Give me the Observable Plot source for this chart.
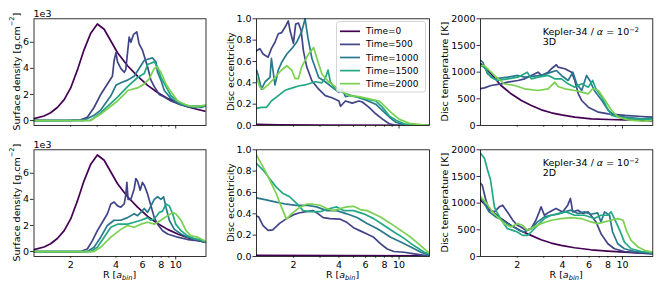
<!DOCTYPE html>
<html><head><meta charset="utf-8">
<script src="https://cdn.jsdelivr.net/npm/d3@7"></script>
<script src="https://cdn.jsdelivr.net/npm/@observablehq/plot@0.6"></script>
<style>
body{margin:0;background:#fff;}
#fig{position:relative;width:664px;height:291px;font-family:"DejaVu Sans",sans-serif;}
#fig svg{position:absolute;left:0;top:0;overflow:visible;}
</style></head><body><div id="fig"></div>
<script>
// ---------------- data ----------------
const times = ["Time=0", "Time=500", "Time=1000", "Time=1500", "Time=2000"];
const colors = ["#440154", "#414487", "#2a788e", "#22a884", "#7ad151"];
const xDomain = [1.14, 15.9];
const xLabelTicks = [2, 4, 6, 8];
const xMajorTicks = [10];
const xMinorTicks = [3, 5, 7, 9];
const sdTicks = [0, 2, 4, 6];
const ecTicks = [0, 0.2, 0.4, 0.6, 0.8, 1.0];
const tpTicks = [0, 500, 1000, 1500, 2000];

// surface density (x1e3 g/cm^2), initial profile (Time=0) shared by 3D and 2D
const sdInit = [[1.14,0.15],[1.33,0.35],[1.47,0.6],[1.63,1.0],[1.81,1.6],[2.0,2.5],[2.22,3.9],[2.45,5.4],[2.72,6.7],[3.01,7.4],[3.34,7.0],[3.70,6.1],[4.10,5.2],[4.78,4.2],[5.57,3.4],[6.50,2.7],[7.57,2.15],[8.83,1.7],[10.3,1.35],[12.0,1.07],[14.0,0.85],[15.9,0.7]];
const sd3d_t500 = [[1.14,0.02],[1.9,0.02],[2.33,0.05],[2.58,0.25],[2.86,1.0],[3.17,2.0],[3.51,2.8],[3.79,3.4],[3.89,4.6],[4.0,5.2],[4.1,4.5],[4.31,4.0],[4.54,3.7],[4.65,3.9],[4.9,6.4],[5.03,6.0],[5.24,6.6],[5.51,6.8],[5.7,5.9],[6.0,5.4],[6.5,4.1],[6.84,3.1],[7.2,2.6],[7.77,2.0],[8.39,1.8],[9.3,1.5],[10.84,1.2],[12.64,1.0],[14.74,1.0],[15.9,1.15]];
const sd3d_t1000 = [[1.14,0.0],[2.45,0.02],[2.86,0.4],[3.17,0.8],[3.7,1.9],[4.0,2.7],[4.31,2.9],[4.78,3.1],[5.29,3.4],[5.86,4.2],[6.17,4.6],[6.5,4.7],[7.01,4.8],[7.38,4.5],[7.57,3.7],[7.97,3.1],[8.39,2.3],[9.3,1.7],[10.84,1.2],[12.64,1.1],[15.9,1.1]];
const sd3d_t1500 = [[1.14,0.0],[2.72,0.02],[3.17,0.6],[4.1,1.8],[4.78,2.6],[5.57,3.3],[6.17,3.6],[6.5,4.3],[7.2,4.5],[7.57,4.1],[7.97,3.3],[8.61,2.6],[9.3,1.9],[10.84,1.3],[13.31,1.0],[15.9,1.1]];
const sd3d_t2000 = [[1.14,0.0],[2.72,0.02],[3.17,0.5],[4.1,1.5],[4.54,2.0],[4.78,2.3],[5.57,2.5],[6.17,2.8],[6.66,3.2],[7.2,4.0],[7.5,4.1],[7.97,3.7],[8.61,2.8],[9.3,2.2],[10.3,1.5],[12.0,1.15],[14.0,1.07],[15.9,1.2]];

const sd2d_t500 = [[1.14,0.0],[2.33,0.0],[2.58,0.2],[2.79,0.84],[3.01,1.6],[3.25,2.25],[3.51,2.9],[3.7,3.65],[3.89,3.8],[4.1,3.5],[4.31,3.4],[4.54,3.65],[4.65,4.3],[4.73,5.3],[4.82,4.0],[5.03,4.0],[5.29,4.8],[5.43,5.6],[5.57,5.4],[5.8,4.7],[6.0,5.3],[6.2,5.05],[6.5,4.4],[6.84,3.5],[7.2,2.6],[7.57,2.1],[8.18,1.6],[8.83,1.35],[10.3,1.1],[12.0,0.92],[14.0,0.84],[15.9,0.71]];
const sd2d_t1000 = [[1.14,0.0],[2.58,0.0],[2.86,0.33],[3.17,1.1],[3.51,2.0],[3.89,2.4],[4.31,2.4],[4.78,2.6],[5.29,2.9],[5.57,2.75],[5.86,3.0],[6.17,3.3],[6.5,3.0],[6.84,3.5],[7.2,4.0],[7.57,4.2],[7.97,4.0],[8.3,4.2],[8.61,3.4],[9.06,2.4],[9.79,1.7],[10.84,1.35],[12.0,1.1],[14.0,0.92],[15.9,0.71]];
const sd2d_t1500 = [[1.14,0.0],[2.72,0.0],[3.01,0.33],[3.34,1.1],[3.7,1.86],[4.1,2.1],[4.78,2.1],[5.29,2.25],[5.86,2.4],[6.5,2.6],[6.84,2.4],[7.2,2.5],[7.77,3.0],[8.18,3.1],[8.61,3.65],[9.06,3.5],[9.54,2.9],[10.0,2.1],[10.84,1.6],[12.0,1.2],[13.31,0.97],[14.74,0.9],[15.9,0.71]];
const sd2d_t2000 = [[1.14,0.0],[2.86,0.0],[3.17,0.33],[3.7,1.1],[4.31,1.7],[4.78,2.0],[5.29,1.86],[5.86,2.1],[6.5,2.25],[7.2,2.1],[7.97,2.4],[8.83,2.75],[9.54,3.0],[10.0,2.9],[10.84,2.4],[11.7,1.6],[12.64,1.2],[14.0,1.1],[15.1,0.9],[15.9,0.77]];

// disc eccentricity
const ec3d_t0 = [[1.14,0.01],[1.6,0.006],[3.0,0.004],[15.9,0.002]];
const ec3d_t500 = [[1.14,0.70],[1.2,0.72],[1.26,0.67],[1.36,0.64],[1.43,0.72],[1.51,0.78],[1.59,0.86],[1.67,0.87],[1.76,0.92],[1.85,0.98],[1.9,0.89],[2.0,0.77],[2.07,0.95],[2.16,0.96],[2.25,0.89],[2.33,0.70],[2.45,0.55],[2.65,0.42],[2.94,0.34],[3.25,0.28],[3.6,0.26],[4.0,0.23],[4.1,0.18],[4.42,0.23],[4.9,0.21],[5.43,0.23],[5.71,0.22],[6.33,0.17],[7.01,0.11],[7.77,0.06],[8.61,0.016],[9.54,0.002],[15.9,0.0]];
const ec3d_t1000 = [[1.14,0.52],[1.17,0.47],[1.23,0.34],[1.3,0.41],[1.4,0.45],[1.43,0.63],[1.51,0.38],[1.59,0.52],[1.67,0.59],[1.81,0.67],[1.95,0.72],[2.1,0.78],[2.27,0.88],[2.39,1.0],[2.49,0.83],[2.65,0.63],[2.94,0.45],[3.25,0.41],[3.6,0.36],[4.0,0.31],[4.2,0.34],[4.42,0.27],[4.65,0.28],[5.16,0.27],[6.0,0.24],[7.01,0.20],[7.77,0.14],[8.61,0.08],[9.54,0.03],[10.57,0.01],[15.9,0.0]];
const ec3d_t1500 = [[1.14,0.16],[1.23,0.17],[1.33,0.17],[1.43,0.23],[1.59,0.28],[1.76,0.33],[1.95,0.35],[2.16,0.37],[2.39,0.38],[2.79,0.41],[3.09,0.40],[3.25,0.44],[3.39,0.52],[3.51,0.41],[3.79,0.34],[4.42,0.30],[5.16,0.27],[6.0,0.25],[7.01,0.23],[7.77,0.17],[8.61,0.09],[9.54,0.05],[11.1,0.01],[15.9,0.0]];
const ec3d_t2000 = [[1.14,0.45],[1.2,0.36],[1.26,0.34],[1.36,0.38],[1.51,0.45],[1.67,0.52],[1.81,0.56],[1.95,0.52],[2.05,0.44],[2.16,0.44],[2.27,0.55],[2.39,0.61],[2.52,0.67],[2.72,0.73],[2.86,0.63],[3.09,0.48],[3.42,0.41],[4.0,0.34],[4.65,0.28],[5.43,0.27],[6.33,0.25],[7.38,0.23],[8.18,0.17],[9.06,0.11],[10.0,0.06],[11.7,0.02],[14.4,0.006],[15.9,0.0]];

const ec2d_t0 = [[1.14,0.01],[4.0,0.008],[15.9,0.006]];
const ec2d_t500 = [[1.14,0.38],[1.18,0.37],[1.26,0.29],[1.36,0.245],[1.46,0.25],[1.62,0.31],[1.8,0.355],[1.99,0.39],[2.2,0.41],[2.44,0.42],[2.7,0.43],[2.92,0.40],[3.15,0.365],[3.49,0.355],[4.08,0.35],[4.51,0.32],[5.0,0.27],[5.54,0.24],[6.14,0.21],[6.8,0.18],[7.53,0.12],[8.35,0.07],[9.25,0.047],[10.8,0.04],[12.6,0.025],[14.7,0.01],[15.9,0.008]];
const ec2d_t1000 = [[1.14,0.55],[1.32,0.53],[1.54,0.51],[1.8,0.49],[2.09,0.48],[2.44,0.48],[2.85,0.465],[3.32,0.43],[3.87,0.43],[4.51,0.40],[5.27,0.365],[6.14,0.31],[7.19,0.26],[7.97,0.22],[8.79,0.18],[10.26,0.135],[11.96,0.09],[13.95,0.04],[15.9,0.01]];
const ec2d_t1500 = [[1.14,0.87],[1.26,0.81],[1.39,0.73],[1.54,0.65],[1.71,0.59],[1.89,0.56],[2.09,0.50],[2.32,0.43],[2.57,0.42],[3.0,0.42],[3.49,0.45],[3.87,0.465],[4.29,0.43],[5.0,0.43],[5.84,0.40],[6.8,0.355],[7.97,0.29],[9.25,0.23],[10.8,0.17],[12.6,0.10],[14.7,0.04],[15.9,0.025]];
const ec2d_t2000 = [[1.14,0.95],[1.26,0.84],[1.39,0.72],[1.54,0.59],[1.66,0.47],[1.8,0.35],[1.94,0.40],[2.2,0.46],[2.44,0.49],[2.7,0.49],[3.0,0.48],[3.32,0.45],[3.68,0.43],[4.08,0.45],[4.51,0.465],[5.0,0.47],[5.54,0.44],[6.14,0.43],[6.8,0.40],[7.53,0.37],[8.79,0.31],[10.26,0.245],[11.96,0.18],[13.95,0.10],[15.9,0.03]];

// disc temperature [K]
const tp3d_t0 = [[1.14,1160],[1.34,970],[1.56,750],[1.82,594],[2.13,469],[2.48,375],[2.89,294],[3.37,238],[3.93,200],[4.82,156],[6.2,125],[8.05,112],[10.4,106],[13.4,100],[15.9,85]];
const tp3d_t500 = [[1.14,690],[1.21,706],[1.34,750],[1.56,781],[1.73,813],[2.02,844],[2.24,875],[2.48,938],[2.75,1000],[2.89,938],[3.21,1000],[3.37,1063],[3.64,1138],[3.73,1094],[4.14,1063],[4.59,1000],[4.82,844],[5.09,594],[5.36,469],[5.93,344],[6.92,250],[8.05,219],[10.4,188],[13.4,169],[15.9,156]];
const tp3d_t1000 = [[1.14,1219],[1.18,1188],[1.27,969],[1.41,875],[1.73,906],[2.02,938],[2.24,906],[2.89,938],[3.37,1000],[3.64,1031],[3.93,938],[4.35,844],[4.69,1000],[4.96,781],[5.36,656],[5.77,938],[6.07,844],[6.5,656],[7.3,469],[8.05,281],[8.9,188],[10.4,156],[13.4,125],[15.9,144]];
const tp3d_t1500 = [[1.14,1125],[1.21,1094],[1.34,906],[1.48,844],[1.73,875],[2.02,906],[2.33,1000],[2.48,875],[2.75,906],[3.21,938],[3.55,875],[3.93,875],[4.35,781],[4.82,719],[5.36,781],[5.93,719],[6.34,844],[6.65,688],[7.3,531],[7.86,344],[8.47,188],[9.87,144],[12.2,125],[15.9,113]];
const tp3d_t2000 = [[1.14,1125],[1.21,1125],[1.41,938],[1.64,781],[1.92,750],[2.24,688],[2.75,656],[3.21,688],[3.55,813],[3.73,731],[4.14,688],[4.82,656],[5.36,625],[5.93,594],[6.34,688],[6.92,656],[7.67,469],[8.47,281],[9.36,156],[10.9,106],[13.4,81],[15.9,94]];

const tp2d_t0 = [[1.14,1057],[1.33,868],[1.56,711],[1.81,585],[2.12,478],[2.47,396],[2.88,314],[3.36,252],[3.91,208],[4.8,164],[6.17,126],[8.0,101],[10.3,82],[13.4,63],[15.9,60]];
const tp2d_t500 = [[1.14,1371],[1.17,1340],[1.23,1088],[1.3,868],[1.41,836],[1.52,931],[1.6,962],[1.72,836],[1.87,679],[2.0,585],[2.12,553],[2.28,490],[2.47,522],[2.66,679],[2.8,836],[2.88,931],[3.03,773],[3.27,836],[3.62,900],[4.0,836],[4.33,962],[4.51,1088],[4.67,836],[5.05,868],[5.46,805],[5.9,836],[6.17,773],[6.67,648],[7.2,428],[8.0,239],[8.84,145],[10.3,94],[13.4,63],[15.9,50]];
const tp2d_t1000 = [[1.14,1120],[1.21,994],[1.3,836],[1.44,742],[1.6,679],[1.72,616],[1.91,553],[2.06,490],[2.22,459],[2.47,522],[2.73,648],[3.03,742],[3.36,773],[3.72,792],[4.11,836],[4.56,868],[5.05,805],[5.6,836],[6.17,792],[6.84,818],[7.2,648],[7.6,836],[8.2,773],[8.6,459],[9.3,239],[10.3,145],[12.1,94],[15.9,63]];
const tp2d_t1500 = [[1.14,1937],[1.21,1843],[1.27,1623],[1.33,1434],[1.41,931],[1.48,805],[1.6,648],[1.72,522],[1.87,490],[2.0,459],[2.17,396],[2.34,396],[2.47,459],[2.73,585],[3.03,711],[3.36,773],[3.72,805],[4.22,836],[4.8,773],[5.6,773],[6.5,711],[7.2,773],[8.0,773],[8.4,836],[8.84,711],[9.6,490],[10.3,270],[11.4,145],[13.4,94],[15.9,69]];
const tp2d_t2000 = [[1.14,1120],[1.23,1025],[1.37,836],[1.52,711],[1.64,616],[1.81,553],[2.0,616],[2.17,585],[2.34,490],[2.53,541],[2.88,616],[3.36,679],[3.91,711],[4.56,730],[5.33,711],[6.17,648],[6.84,616],[7.6,648],[8.4,679],[9.3,711],[10.1,679],[10.6,490],[11.4,302],[12.7,176],[14.1,113],[15.9,82]];

// ---------------- layout ----------------
const W = 664, H = 291;
const FONT = "DejaVu Sans";
const colX = [[33.5, 205.5], [256, 429], [480, 652.3]];
const rowY = [[18.3, 125], [149.3, 256]];

const specs = {
  sd: {domain: [-0.38, 7.8], ticks: sdTicks, format: d => String(d)},
  ec: {domain: [0, 1], ticks: ecTicks, format: d3.format(".1f")},
  tp: {domain: [0, 2000], ticks: tpTicks, format: d => String(d)}
};

const fig = document.getElementById("fig");

function panel(series, spec, col, row) {
  const data = series.flatMap((s, i) => s.map(([R, v]) => ({R, v, t: times[i]})));
  const [l, r] = colX[col], [t, b] = rowY[row];
  const bottom = row === 1;
  const lab = bottom ? (d => String(d)) : (() => "");
  const node = Plot.plot({
    width: W, height: H,
    marginLeft: l, marginRight: W - r, marginTop: t, marginBottom: H - b,
    style: {background: "transparent", fontFamily: FONT, fontSize: "9.5px", color: "black", overflow: "visible"},
    x: {type: "log", domain: xDomain},
    y: {domain: spec.domain},
    color: {domain: times, range: colors},
    marks: [
      Plot.line(data, {x: "R", y: "v", z: "t", stroke: "t", strokeWidth: 1.7, clip: true}),
      Plot.frame({stroke: "black", strokeWidth: 0.8}),
      Plot.axisY({ticks: spec.ticks, tickFormat: spec.format, tickSize: 3.5, tickPadding: 1.5, label: null, strokeWidth: 0.8}),
      Plot.axisX({ticks: xMajorTicks, tickFormat: lab, tickSize: 3.5, tickPadding: 1.5, label: null, strokeWidth: 0.8}),
      Plot.axisX({ticks: xLabelTicks, tickFormat: lab, tickSize: 2, tickPadding: 3, label: null, strokeWidth: 0.6}),
      Plot.axisX({ticks: xMinorTicks, tickFormat: () => "", tickSize: 2, label: null, strokeWidth: 0.6})
    ]
  });
  fig.appendChild(node);
}

panel([sdInit, sd3d_t500, sd3d_t1000, sd3d_t1500, sd3d_t2000], specs.sd, 0, 0);
panel([ec3d_t0, ec3d_t500, ec3d_t1000, ec3d_t1500, ec3d_t2000], specs.ec, 1, 0);
panel([tp3d_t0, tp3d_t500, tp3d_t1000, tp3d_t1500, tp3d_t2000], specs.tp, 2, 0);
panel([sdInit, sd2d_t500, sd2d_t1000, sd2d_t1500, sd2d_t2000], specs.sd, 0, 1);
panel([ec2d_t0, ec2d_t500, ec2d_t1000, ec2d_t1500, ec2d_t2000], specs.ec, 1, 1);
panel([tp2d_t0, tp2d_t500, tp2d_t1000, tp2d_t1500, tp2d_t2000], specs.tp, 2, 1);

// ---------------- overlay texts & legend ----------------
const ov = d3.select(fig).append("svg").attr("width", W).attr("height", H)
  .style("font-family", FONT).attr("fill", "black");

const yLabelX = [15.5, 230, 444.5];
function yLabel(col, row, build) {
  const [t, b] = rowY[row];
  const txt = ov.append("text")
    .attr("transform", `translate(${yLabelX[col]},${(t + b) / 2}) rotate(-90)`)
    .attr("text-anchor", "middle").attr("dominant-baseline", "central")
    .style("font-size", "9.5px");
  build(txt);
}
const sdLabel = txt => {
  txt.append("tspan").text("Surface density [g.cm");
  txt.append("tspan").attr("dy", -3.5).style("font-size", "6.7px").text("−2");
  txt.append("tspan").attr("dy", 3.5).text("]");
};
for (const row of [0, 1]) {
  yLabel(0, row, sdLabel);
  yLabel(1, row, t => t.text("Disc eccentricity"));
  yLabel(2, row, t => t.text("Disc temperature [K]"));
  // offset text
  ov.append("text").attr("x", colX[0][0]).attr("y", rowY[row][0] - 1.3)
    .style("font-size", "9.5px").text("1e3");
  // annotation
  const a = ov.append("text").attr("x", 542.7).attr("y", rowY[row][0] + 16.7).style("font-size", "9.5px");
  a.append("tspan").text("Kepler-34 / ");
  a.append("tspan").style("font-style", "italic").text("α");
  a.append("tspan").text(" = 10");
  a.append("tspan").attr("dy", -3.5).style("font-size", "6.7px").text("−2");
  ov.append("text").attr("x", 542.7).attr("y", rowY[row][0] + 27).style("font-size", "9.5px")
    .text(row === 0 ? "3D" : "2D");
}
// x labels
for (const col of [0, 1, 2]) {
  const cx = (colX[col][0] + colX[col][1]) / 2;
  const t = ov.append("text").attr("x", cx).attr("y", 277.5).attr("text-anchor", "middle").style("font-size", "9.5px");
  t.append("tspan").text("R [");
  t.append("tspan").style("font-style", "italic").text("a");
  t.append("tspan").attr("dy", 2.2).style("font-size", "6.7px").style("font-style", "italic").text("bin");
  t.append("tspan").attr("dy", -2.2).text("]");
}
// legend
const lg = ov.append("g");
lg.append("rect").attr("x", 336.5).attr("y", 21.5).attr("width", 89).attr("height", 70.5)
  .attr("rx", 2.5).attr("fill", "white").attr("fill-opacity", 0.8).attr("stroke", "#cccccc").attr("stroke-width", 0.8);
times.forEach((name, i) => {
  const y = 31.3 + i * 13.1;
  lg.append("line").attr("x1", 340).attr("x2", 360).attr("y1", y).attr("y2", y)
    .attr("stroke", colors[i]).attr("stroke-width", 1.7);
  lg.append("text").attr("x", 366).attr("y", y).attr("dominant-baseline", "central")
    .style("font-size", "9px").text(name);
});
</script>
</body></html>
